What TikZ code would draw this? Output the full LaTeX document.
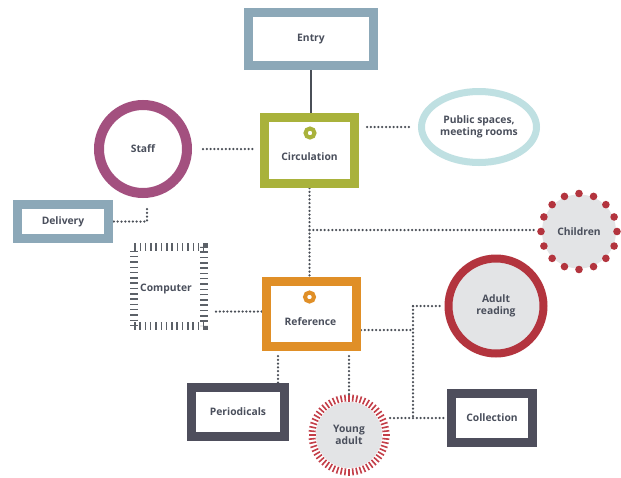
\documentclass[tikz,border=0pt]{standalone}
\usepackage{fontspec}
\setmainfont{Open Sans}
\usetikzlibrary{shapes.geometric,backgrounds,calc}

\definecolor{entryblue}{HTML}{8CA8B8}
\definecolor{olive}{HTML}{A9B23B}
\definecolor{plum}{HTML}{A3507F}
\definecolor{paleteal}{HTML}{BFE0E2}
\definecolor{amber}{HTML}{E08F27}
\definecolor{wine}{HTML}{B3343E}
\definecolor{rosered}{HTML}{C33E48}
\definecolor{slate}{HTML}{4E4E5C}
\definecolor{softgray}{HTML}{E3E4E6}
\definecolor{dotgray}{HTML}{4A4F57}
\definecolor{inkgray}{HTML}{4A4F5C}

\tikzset{
  x=1pt, y=-1pt,
  lbl/.style={font=\bfseries\fontsize{10.3}{12.5}\selectfont, text=inkgray, align=center, inner sep=0pt},
  roombox/.style={draw=#1, fill=white, line width=9pt, rectangle, inner sep=0pt},
  ringzone/.style={draw=#1, fill=white, line width=10pt, circle, inner sep=0pt},
  dotline/.style={draw=dotgray, line width=2.5pt, line cap=round, dash pattern=on 0pt off 3.8pt},
  solidlink/.style={draw=dotgray, line width=2pt},
  hub/.style={draw=#1, fill=white, line width=4pt, circle, minimum size=9pt, inner sep=0pt},
}

\begin{document}
\begin{tikzpicture}
\useasboundingbox (0,0) rectangle (621,477);

% rectangular rooms
\node[roombox=entryblue, minimum width=125pt, minimum height=53pt] (Entry) at (311,39) {};
\node[lbl] (EntryText) at (Entry.center) {Entry};

\node[roombox=olive, minimum width=90pt, minimum height=66pt] (Circulation) at (309.5,150.5) {};
\node[hub=olive] (CircHub) at (310,133) {};
\node[lbl] (CircText) at (309.5,157) {Circulation};

\node[roombox=entryblue, minimum width=91pt, minimum height=34pt] (Delivery) at (63,221.5) {};
\node[lbl] (DeliveryText) at (Delivery.center) {Delivery};

\node[roombox=amber, minimum width=90pt, minimum height=65pt] (Reference) at (311.5,314) {};
\node[hub=amber] (RefHub) at (309.5,297) {};
\node[lbl] (RefText) at (310.5,322) {Reference};

\node[roombox=slate, minimum width=93pt, minimum height=49pt] (Periodicals) at (238,412) {};
\node[lbl] (PeriodicalsText) at (Periodicals.center) {Periodicals};

\node[roombox=slate, minimum width=81pt, minimum height=49pt] (Collection) at (492,418) {};
\node[lbl] (CollectionText) at (Collection.center) {Collection};

% round rooms
\node[ringzone=plum, minimum size=88pt] (Staff) at (143,149) {};
\node[lbl] (StaffText) at (Staff.center) {Staff};

\node[draw=paleteal, fill=white, line width=7pt, ellipse, inner sep=0pt,
      minimum width=115pt, minimum height=71pt] (Public) at (479,127) {};
\node[lbl] (PublicText) at (Public.center) {Public spaces,\\meeting rooms};

\node[draw=wine, fill=softgray, line width=8pt, circle, inner sep=0pt, minimum size=95pt] (Adult) at (496,306) {};
\node[lbl] (AdultText) at (Adult.center) {Adult\\reading};

% children: grey disc ringed with dots
\node[fill=softgray, circle, inner sep=0pt, minimum size=74pt] (Children) at (579,231.5) {};
\foreach \a in {0,22.5,...,359} {
  \fill[wine] (Children.center) ++(\a+90:38) circle[radius=3.8pt];
}
\node[lbl] (ChildrenText) at (Children.center) {Children};

% young adult: grey disc ringed with rays
\node[fill=softgray, circle, inner sep=0pt, minimum size=66pt] (Young) at (349,435) {};
\foreach \a in {0,6,...,354} {
  \draw[rosered, line width=1.6pt] (Young.center) ++(\a:33.5) -- ++(\a:7);
}
\node[lbl] (YoungText) at (Young.center) {Young\\adult};

% computer: square with a comb-like border
\node[draw=dotgray!90, line width=8pt, dash pattern=on 1.5pt off 3.8pt, rectangle, inner sep=0pt,
      minimum width=70pt, minimum height=79pt] (Computer) at (169,286.5) {};
\node[lbl] (ComputerText) at (166,289) {Computer};

% connectors, kept beneath the rooms on a white ground
\begin{pgfonlayer}{background}
  \fill[white] (0,0) rectangle (621,477);
  \draw[solidlink] (Entry.south) -- (Entry.south |- Circulation.north);
  \draw[dotline, shorten <=11pt, shorten >=7pt] (Staff.east) -- (Staff.east -| Circulation.west);
  \draw[dotline, shorten <=8pt, shorten >=6pt] (Public.west -| Circulation.east) -- (Public.west);
  \draw[dotline, shorten <=11pt] ([xshift=4pt]Staff.south) |- (Delivery.east);
  \draw[dotline] (Circulation.south) -- (Circulation.south |- Reference.north);
  \draw[dotline, shorten >=6pt] (Circulation.south |- 0,230) -- (Children.west |- 0,230);
  \draw[dotline, shorten <=8pt] (Computer.east |- 0,311.5) -- (Reference.west |- 0,311.5);
  \coordinate (split) at (413,330);
  \draw[dotline] (Reference.east |- split) -- (split);
  \draw[dotline] (split |- Adult.west) -- (split |- Collection.west);
  \draw[dotline, shorten >=4pt] (split |- Adult.west) -- (Adult.west);
  \draw[dotline, shorten <=8pt] (Young.east |- Collection.west) -- (Collection.west);
  \draw[dotline, shorten <=5pt] (278,0 |- Reference.south) -- (278,0 |- Periodicals.north);
  \draw[dotline, shorten <=5pt, shorten >=6pt] (Young.north |- Reference.south) -- (Young.north);
\end{pgfonlayer}
\end{tikzpicture}
\end{document}
